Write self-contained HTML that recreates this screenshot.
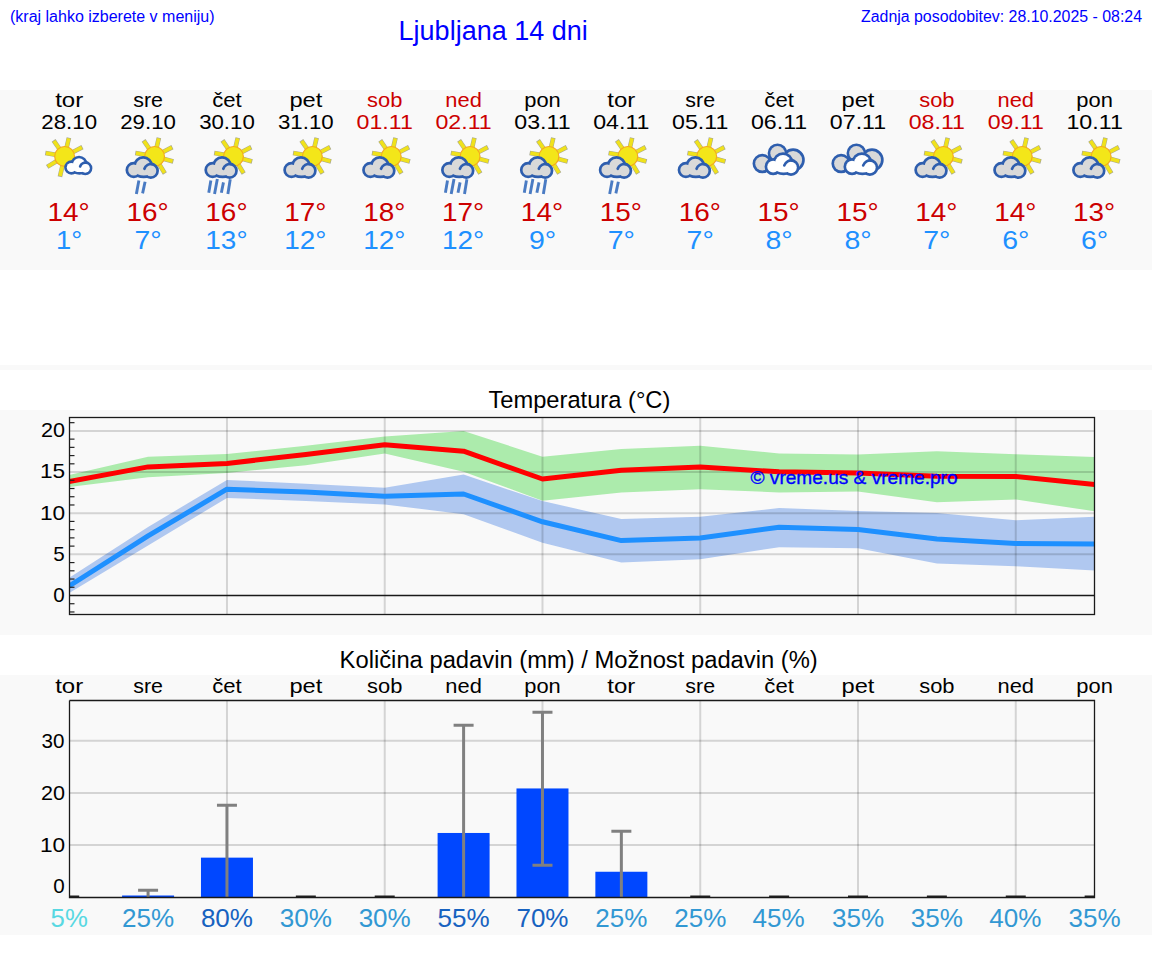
<!DOCTYPE html>
<html><head><meta charset="utf-8"><title>Ljubljana 14 dni</title>
<style>html,body{margin:0;padding:0;background:#fff;width:1152px;height:975px;overflow:hidden;font-family:"Liberation Sans", sans-serif}</style>
</head><body>
<svg width="1152" height="975" viewBox="0 0 1152 975" style="position:absolute;left:0;top:0" font-family="Liberation Sans, sans-serif"><rect x="0" y="90" width="1152" height="180" fill="#f9f9f9"/><rect x="0" y="365" width="1152" height="5" fill="#f9f9f9"/><rect x="0" y="410" width="1152" height="225" fill="#f9f9f9"/><rect x="0" y="675" width="1152" height="260" fill="#f9f9f9"/><text x="10.00" y="22.00" font-size="16.00" fill="#0000ff" text-anchor="start">(kraj lahko izberete v meniju)</text><text x="398.60" y="39.50" font-size="27.00" fill="#0000ff" text-anchor="start">Ljubljana 14 dni</text><text x="1142.00" y="22.00" font-size="16.00" fill="#0000ff" text-anchor="end" textLength="281.00" lengthAdjust="spacingAndGlyphs">Zadnja posodobitev: 28.10.2025 - 08:24</text><text x="69.20" y="107.00" font-size="20.60" fill="#000" text-anchor="middle" textLength="28.05" lengthAdjust="spacingAndGlyphs">tor</text><text x="69.20" y="129.00" font-size="20.60" fill="#000" text-anchor="middle" textLength="55.67" lengthAdjust="spacingAndGlyphs">28.10</text><text x="68.70" y="221.00" font-size="25.00" fill="#cc0000" text-anchor="middle" textLength="42.19" lengthAdjust="spacingAndGlyphs">14°</text><text x="69.20" y="249.00" font-size="25.00" fill="#1e90ff" text-anchor="middle" textLength="26.18" lengthAdjust="spacingAndGlyphs">1°</text><text x="148.08" y="107.00" font-size="20.60" fill="#000" text-anchor="middle" textLength="29.75" lengthAdjust="spacingAndGlyphs">sre</text><text x="148.08" y="129.00" font-size="20.60" fill="#000" text-anchor="middle" textLength="55.67" lengthAdjust="spacingAndGlyphs">29.10</text><text x="147.58" y="221.00" font-size="25.00" fill="#cc0000" text-anchor="middle" textLength="42.19" lengthAdjust="spacingAndGlyphs">16°</text><text x="148.08" y="249.00" font-size="25.00" fill="#1e90ff" text-anchor="middle" textLength="27.21" lengthAdjust="spacingAndGlyphs">7°</text><text x="226.96" y="107.00" font-size="20.60" fill="#000" text-anchor="middle" textLength="29.52" lengthAdjust="spacingAndGlyphs">čet</text><text x="226.96" y="129.00" font-size="20.60" fill="#000" text-anchor="middle" textLength="55.67" lengthAdjust="spacingAndGlyphs">30.10</text><text x="226.46" y="221.00" font-size="25.00" fill="#cc0000" text-anchor="middle" textLength="42.19" lengthAdjust="spacingAndGlyphs">16°</text><text x="226.46" y="249.00" font-size="25.00" fill="#1e90ff" text-anchor="middle" textLength="42.19" lengthAdjust="spacingAndGlyphs">13°</text><text x="305.84" y="107.00" font-size="20.60" fill="#000" text-anchor="middle" textLength="32.88" lengthAdjust="spacingAndGlyphs">pet</text><text x="305.84" y="129.00" font-size="20.60" fill="#000" text-anchor="middle" textLength="55.67" lengthAdjust="spacingAndGlyphs">31.10</text><text x="305.34" y="221.00" font-size="25.00" fill="#cc0000" text-anchor="middle" textLength="42.19" lengthAdjust="spacingAndGlyphs">17°</text><text x="305.34" y="249.00" font-size="25.00" fill="#1e90ff" text-anchor="middle" textLength="42.19" lengthAdjust="spacingAndGlyphs">12°</text><text x="384.72" y="107.00" font-size="20.60" fill="#cc0000" text-anchor="middle" textLength="35.29" lengthAdjust="spacingAndGlyphs">sob</text><text x="384.72" y="129.00" font-size="20.60" fill="#cc0000" text-anchor="middle" textLength="56.27" lengthAdjust="spacingAndGlyphs">01.11</text><text x="384.22" y="221.00" font-size="25.00" fill="#cc0000" text-anchor="middle" textLength="42.19" lengthAdjust="spacingAndGlyphs">18°</text><text x="384.22" y="249.00" font-size="25.00" fill="#1e90ff" text-anchor="middle" textLength="42.19" lengthAdjust="spacingAndGlyphs">12°</text><text x="463.60" y="107.00" font-size="20.60" fill="#cc0000" text-anchor="middle" textLength="36.52" lengthAdjust="spacingAndGlyphs">ned</text><text x="463.60" y="129.00" font-size="20.60" fill="#cc0000" text-anchor="middle" textLength="56.27" lengthAdjust="spacingAndGlyphs">02.11</text><text x="463.10" y="221.00" font-size="25.00" fill="#cc0000" text-anchor="middle" textLength="42.19" lengthAdjust="spacingAndGlyphs">17°</text><text x="463.10" y="249.00" font-size="25.00" fill="#1e90ff" text-anchor="middle" textLength="42.19" lengthAdjust="spacingAndGlyphs">12°</text><text x="542.48" y="107.00" font-size="20.60" fill="#000" text-anchor="middle" textLength="36.52" lengthAdjust="spacingAndGlyphs">pon</text><text x="542.48" y="129.00" font-size="20.60" fill="#000" text-anchor="middle" textLength="56.27" lengthAdjust="spacingAndGlyphs">03.11</text><text x="541.98" y="221.00" font-size="25.00" fill="#cc0000" text-anchor="middle" textLength="42.19" lengthAdjust="spacingAndGlyphs">14°</text><text x="542.48" y="249.00" font-size="25.00" fill="#1e90ff" text-anchor="middle" textLength="27.21" lengthAdjust="spacingAndGlyphs">9°</text><text x="621.36" y="107.00" font-size="20.60" fill="#000" text-anchor="middle" textLength="28.05" lengthAdjust="spacingAndGlyphs">tor</text><text x="621.36" y="129.00" font-size="20.60" fill="#000" text-anchor="middle" textLength="56.27" lengthAdjust="spacingAndGlyphs">04.11</text><text x="620.86" y="221.00" font-size="25.00" fill="#cc0000" text-anchor="middle" textLength="42.19" lengthAdjust="spacingAndGlyphs">15°</text><text x="621.36" y="249.00" font-size="25.00" fill="#1e90ff" text-anchor="middle" textLength="27.21" lengthAdjust="spacingAndGlyphs">7°</text><text x="700.24" y="107.00" font-size="20.60" fill="#000" text-anchor="middle" textLength="29.75" lengthAdjust="spacingAndGlyphs">sre</text><text x="700.24" y="129.00" font-size="20.60" fill="#000" text-anchor="middle" textLength="56.27" lengthAdjust="spacingAndGlyphs">05.11</text><text x="699.74" y="221.00" font-size="25.00" fill="#cc0000" text-anchor="middle" textLength="42.19" lengthAdjust="spacingAndGlyphs">16°</text><text x="700.24" y="249.00" font-size="25.00" fill="#1e90ff" text-anchor="middle" textLength="27.21" lengthAdjust="spacingAndGlyphs">7°</text><text x="779.12" y="107.00" font-size="20.60" fill="#000" text-anchor="middle" textLength="29.52" lengthAdjust="spacingAndGlyphs">čet</text><text x="779.12" y="129.00" font-size="20.60" fill="#000" text-anchor="middle" textLength="56.27" lengthAdjust="spacingAndGlyphs">06.11</text><text x="778.62" y="221.00" font-size="25.00" fill="#cc0000" text-anchor="middle" textLength="42.19" lengthAdjust="spacingAndGlyphs">15°</text><text x="779.12" y="249.00" font-size="25.00" fill="#1e90ff" text-anchor="middle" textLength="27.21" lengthAdjust="spacingAndGlyphs">8°</text><text x="858.00" y="107.00" font-size="20.60" fill="#000" text-anchor="middle" textLength="32.88" lengthAdjust="spacingAndGlyphs">pet</text><text x="858.00" y="129.00" font-size="20.60" fill="#000" text-anchor="middle" textLength="56.27" lengthAdjust="spacingAndGlyphs">07.11</text><text x="857.50" y="221.00" font-size="25.00" fill="#cc0000" text-anchor="middle" textLength="42.19" lengthAdjust="spacingAndGlyphs">15°</text><text x="858.00" y="249.00" font-size="25.00" fill="#1e90ff" text-anchor="middle" textLength="27.21" lengthAdjust="spacingAndGlyphs">8°</text><text x="936.88" y="107.00" font-size="20.60" fill="#cc0000" text-anchor="middle" textLength="35.29" lengthAdjust="spacingAndGlyphs">sob</text><text x="936.88" y="129.00" font-size="20.60" fill="#cc0000" text-anchor="middle" textLength="56.27" lengthAdjust="spacingAndGlyphs">08.11</text><text x="936.38" y="221.00" font-size="25.00" fill="#cc0000" text-anchor="middle" textLength="42.19" lengthAdjust="spacingAndGlyphs">14°</text><text x="936.88" y="249.00" font-size="25.00" fill="#1e90ff" text-anchor="middle" textLength="27.21" lengthAdjust="spacingAndGlyphs">7°</text><text x="1015.76" y="107.00" font-size="20.60" fill="#cc0000" text-anchor="middle" textLength="36.52" lengthAdjust="spacingAndGlyphs">ned</text><text x="1015.76" y="129.00" font-size="20.60" fill="#cc0000" text-anchor="middle" textLength="56.27" lengthAdjust="spacingAndGlyphs">09.11</text><text x="1015.26" y="221.00" font-size="25.00" fill="#cc0000" text-anchor="middle" textLength="42.19" lengthAdjust="spacingAndGlyphs">14°</text><text x="1015.76" y="249.00" font-size="25.00" fill="#1e90ff" text-anchor="middle" textLength="27.21" lengthAdjust="spacingAndGlyphs">6°</text><text x="1094.64" y="107.00" font-size="20.60" fill="#000" text-anchor="middle" textLength="36.52" lengthAdjust="spacingAndGlyphs">pon</text><text x="1094.64" y="129.00" font-size="20.60" fill="#000" text-anchor="middle" textLength="56.42" lengthAdjust="spacingAndGlyphs">10.11</text><text x="1094.14" y="221.00" font-size="25.00" fill="#cc0000" text-anchor="middle" textLength="42.19" lengthAdjust="spacingAndGlyphs">13°</text><text x="1094.64" y="249.00" font-size="25.00" fill="#1e90ff" text-anchor="middle" textLength="27.21" lengthAdjust="spacingAndGlyphs">6°</text><line x1="72.58" y1="152.24" x2="82.43" y2="147.12" stroke="#a8a890" stroke-width="4.6"/><line x1="66.62" y1="147.63" x2="68.92" y2="137.69" stroke="#a8a890" stroke-width="4.6"/><line x1="59.50" y1="148.98" x2="53.61" y2="140.41" stroke="#a8a890" stroke-width="4.6"/><line x1="55.74" y1="154.84" x2="45.30" y2="153.00" stroke="#a8a890" stroke-width="4.6"/><line x1="56.89" y1="161.04" x2="47.20" y2="166.86" stroke="#a8a890" stroke-width="4.6"/><line x1="62.58" y1="165.17" x2="59.92" y2="176.67" stroke="#a8a890" stroke-width="4.6"/><line x1="69.24" y1="164.11" x2="74.85" y2="173.46" stroke="#a8a890" stroke-width="4.6"/><line x1="73.29" y1="158.73" x2="83.34" y2="161.42" stroke="#a8a890" stroke-width="4.6"/><line x1="72.58" y1="152.24" x2="81.81" y2="147.44" stroke="#f0e21b" stroke-width="3.6"/><line x1="66.62" y1="147.63" x2="68.76" y2="138.37" stroke="#f0e21b" stroke-width="3.6"/><line x1="59.50" y1="148.98" x2="54.01" y2="140.99" stroke="#f0e21b" stroke-width="3.6"/><line x1="55.74" y1="154.84" x2="45.99" y2="153.12" stroke="#f0e21b" stroke-width="3.6"/><line x1="56.89" y1="161.04" x2="47.80" y2="166.49" stroke="#f0e21b" stroke-width="3.6"/><line x1="62.58" y1="165.17" x2="60.08" y2="175.98" stroke="#f0e21b" stroke-width="3.6"/><line x1="69.24" y1="164.11" x2="74.49" y2="172.86" stroke="#f0e21b" stroke-width="3.6"/><line x1="73.29" y1="158.73" x2="82.66" y2="161.24" stroke="#f0e21b" stroke-width="3.6"/><circle cx="64.60" cy="156.40" r="9.9" fill="#f3e619" stroke="#f4a91f" stroke-width="1.2"/><g transform="translate(64.30,156.20) scale(0.82)"><circle cx="8.60" cy="13.80" r="5.60" fill="#2e5eae" stroke="#2e5eae" stroke-width="6.34"/><circle cx="18.00" cy="10.00" r="7.40" fill="#2e5eae" stroke="#2e5eae" stroke-width="6.34"/><circle cx="25.60" cy="14.60" r="5.50" fill="#2e5eae" stroke="#2e5eae" stroke-width="6.34"/><ellipse cx="18.50" cy="15.80" rx="7.50" ry="3.50" fill="#2e5eae" stroke="#2e5eae" stroke-width="6.34"/><circle cx="8.60" cy="13.80" r="5.60" fill="#ffffff"/><circle cx="18.00" cy="10.00" r="7.40" fill="#ffffff"/><circle cx="25.60" cy="14.60" r="5.50" fill="#ffffff"/><ellipse cx="18.50" cy="15.80" rx="7.50" ry="3.50" fill="#ffffff"/><path d="M19.28,12.56 A6.8,6.8 0 0 1 27.37,8.07" fill="none" stroke="#2e5eae" stroke-width="3.17" stroke-linecap="round"/></g><line x1="162.56" y1="152.24" x2="172.41" y2="147.12" stroke="#a8a890" stroke-width="4.6"/><line x1="156.60" y1="147.63" x2="158.90" y2="137.69" stroke="#a8a890" stroke-width="4.6"/><line x1="149.48" y1="148.98" x2="143.59" y2="140.41" stroke="#a8a890" stroke-width="4.6"/><line x1="145.72" y1="154.84" x2="135.28" y2="153.00" stroke="#a8a890" stroke-width="4.6"/><line x1="146.87" y1="161.04" x2="137.18" y2="166.86" stroke="#a8a890" stroke-width="4.6"/><line x1="152.56" y1="165.17" x2="149.90" y2="176.67" stroke="#a8a890" stroke-width="4.6"/><line x1="159.22" y1="164.11" x2="164.83" y2="173.46" stroke="#a8a890" stroke-width="4.6"/><line x1="163.27" y1="158.73" x2="173.32" y2="161.42" stroke="#a8a890" stroke-width="4.6"/><line x1="162.56" y1="152.24" x2="171.79" y2="147.44" stroke="#f0e21b" stroke-width="3.6"/><line x1="156.60" y1="147.63" x2="158.74" y2="138.37" stroke="#f0e21b" stroke-width="3.6"/><line x1="149.48" y1="148.98" x2="143.99" y2="140.99" stroke="#f0e21b" stroke-width="3.6"/><line x1="145.72" y1="154.84" x2="135.97" y2="153.12" stroke="#f0e21b" stroke-width="3.6"/><line x1="146.87" y1="161.04" x2="137.78" y2="166.49" stroke="#f0e21b" stroke-width="3.6"/><line x1="152.56" y1="165.17" x2="150.06" y2="175.98" stroke="#f0e21b" stroke-width="3.6"/><line x1="159.22" y1="164.11" x2="164.47" y2="172.86" stroke="#f0e21b" stroke-width="3.6"/><line x1="163.27" y1="158.73" x2="172.64" y2="161.24" stroke="#f0e21b" stroke-width="3.6"/><circle cx="154.58" cy="156.40" r="9.9" fill="#f3e619" stroke="#f4a91f" stroke-width="1.2"/><line x1="138.88" y1="180.50" x2="136.38" y2="194.10" stroke="#4a7bc3" stroke-width="2.9"/><line x1="145.08" y1="181.80" x2="142.58" y2="193.40" stroke="#4a7bc3" stroke-width="2.9"/><g transform="translate(125.18,156.20) scale(1.0)"><circle cx="8.60" cy="13.80" r="5.60" fill="#2e5eae" stroke="#2e5eae" stroke-width="5.40"/><circle cx="18.00" cy="10.00" r="7.40" fill="#2e5eae" stroke="#2e5eae" stroke-width="5.40"/><circle cx="25.60" cy="14.60" r="5.50" fill="#2e5eae" stroke="#2e5eae" stroke-width="5.40"/><ellipse cx="18.50" cy="15.80" rx="7.50" ry="3.50" fill="#2e5eae" stroke="#2e5eae" stroke-width="5.40"/><circle cx="8.60" cy="13.80" r="5.60" fill="#d9d9d9"/><circle cx="18.00" cy="10.00" r="7.40" fill="#d9d9d9"/><circle cx="25.60" cy="14.60" r="5.50" fill="#d9d9d9"/><ellipse cx="18.50" cy="15.80" rx="7.50" ry="3.50" fill="#d9d9d9"/><path d="M19.23,12.54 A6.85,6.85 0 0 1 27.38,8.02" fill="none" stroke="#2e5eae" stroke-width="2.70" stroke-linecap="round"/></g><line x1="241.44" y1="152.24" x2="251.29" y2="147.12" stroke="#a8a890" stroke-width="4.6"/><line x1="235.48" y1="147.63" x2="237.78" y2="137.69" stroke="#a8a890" stroke-width="4.6"/><line x1="228.36" y1="148.98" x2="222.47" y2="140.41" stroke="#a8a890" stroke-width="4.6"/><line x1="224.60" y1="154.84" x2="214.16" y2="153.00" stroke="#a8a890" stroke-width="4.6"/><line x1="225.75" y1="161.04" x2="216.06" y2="166.86" stroke="#a8a890" stroke-width="4.6"/><line x1="231.44" y1="165.17" x2="228.78" y2="176.67" stroke="#a8a890" stroke-width="4.6"/><line x1="238.10" y1="164.11" x2="243.71" y2="173.46" stroke="#a8a890" stroke-width="4.6"/><line x1="242.15" y1="158.73" x2="252.20" y2="161.42" stroke="#a8a890" stroke-width="4.6"/><line x1="241.44" y1="152.24" x2="250.67" y2="147.44" stroke="#f0e21b" stroke-width="3.6"/><line x1="235.48" y1="147.63" x2="237.62" y2="138.37" stroke="#f0e21b" stroke-width="3.6"/><line x1="228.36" y1="148.98" x2="222.87" y2="140.99" stroke="#f0e21b" stroke-width="3.6"/><line x1="224.60" y1="154.84" x2="214.85" y2="153.12" stroke="#f0e21b" stroke-width="3.6"/><line x1="225.75" y1="161.04" x2="216.66" y2="166.49" stroke="#f0e21b" stroke-width="3.6"/><line x1="231.44" y1="165.17" x2="228.94" y2="175.98" stroke="#f0e21b" stroke-width="3.6"/><line x1="238.10" y1="164.11" x2="243.35" y2="172.86" stroke="#f0e21b" stroke-width="3.6"/><line x1="242.15" y1="158.73" x2="251.52" y2="161.24" stroke="#f0e21b" stroke-width="3.6"/><circle cx="233.46" cy="156.40" r="9.9" fill="#f3e619" stroke="#f4a91f" stroke-width="1.2"/><line x1="210.86" y1="180.50" x2="208.76" y2="192.80" stroke="#4a7bc3" stroke-width="2.9"/><line x1="217.36" y1="179.00" x2="214.56" y2="194.10" stroke="#4a7bc3" stroke-width="2.9"/><line x1="223.46" y1="182.40" x2="221.36" y2="192.80" stroke="#4a7bc3" stroke-width="2.9"/><line x1="230.26" y1="179.30" x2="227.86" y2="194.10" stroke="#4a7bc3" stroke-width="2.9"/><g transform="translate(204.06,156.20) scale(1.0)"><circle cx="8.60" cy="13.80" r="5.60" fill="#2e5eae" stroke="#2e5eae" stroke-width="5.40"/><circle cx="18.00" cy="10.00" r="7.40" fill="#2e5eae" stroke="#2e5eae" stroke-width="5.40"/><circle cx="25.60" cy="14.60" r="5.50" fill="#2e5eae" stroke="#2e5eae" stroke-width="5.40"/><ellipse cx="18.50" cy="15.80" rx="7.50" ry="3.50" fill="#2e5eae" stroke="#2e5eae" stroke-width="5.40"/><circle cx="8.60" cy="13.80" r="5.60" fill="#d9d9d9"/><circle cx="18.00" cy="10.00" r="7.40" fill="#d9d9d9"/><circle cx="25.60" cy="14.60" r="5.50" fill="#d9d9d9"/><ellipse cx="18.50" cy="15.80" rx="7.50" ry="3.50" fill="#d9d9d9"/><path d="M19.23,12.54 A6.85,6.85 0 0 1 27.38,8.02" fill="none" stroke="#2e5eae" stroke-width="2.70" stroke-linecap="round"/></g><line x1="320.32" y1="152.24" x2="330.17" y2="147.12" stroke="#a8a890" stroke-width="4.6"/><line x1="314.36" y1="147.63" x2="316.66" y2="137.69" stroke="#a8a890" stroke-width="4.6"/><line x1="307.24" y1="148.98" x2="301.35" y2="140.41" stroke="#a8a890" stroke-width="4.6"/><line x1="303.48" y1="154.84" x2="293.04" y2="153.00" stroke="#a8a890" stroke-width="4.6"/><line x1="304.63" y1="161.04" x2="294.94" y2="166.86" stroke="#a8a890" stroke-width="4.6"/><line x1="310.32" y1="165.17" x2="307.66" y2="176.67" stroke="#a8a890" stroke-width="4.6"/><line x1="316.98" y1="164.11" x2="322.59" y2="173.46" stroke="#a8a890" stroke-width="4.6"/><line x1="321.03" y1="158.73" x2="331.08" y2="161.42" stroke="#a8a890" stroke-width="4.6"/><line x1="320.32" y1="152.24" x2="329.55" y2="147.44" stroke="#f0e21b" stroke-width="3.6"/><line x1="314.36" y1="147.63" x2="316.50" y2="138.37" stroke="#f0e21b" stroke-width="3.6"/><line x1="307.24" y1="148.98" x2="301.75" y2="140.99" stroke="#f0e21b" stroke-width="3.6"/><line x1="303.48" y1="154.84" x2="293.73" y2="153.12" stroke="#f0e21b" stroke-width="3.6"/><line x1="304.63" y1="161.04" x2="295.54" y2="166.49" stroke="#f0e21b" stroke-width="3.6"/><line x1="310.32" y1="165.17" x2="307.82" y2="175.98" stroke="#f0e21b" stroke-width="3.6"/><line x1="316.98" y1="164.11" x2="322.23" y2="172.86" stroke="#f0e21b" stroke-width="3.6"/><line x1="321.03" y1="158.73" x2="330.40" y2="161.24" stroke="#f0e21b" stroke-width="3.6"/><circle cx="312.34" cy="156.40" r="9.9" fill="#f3e619" stroke="#f4a91f" stroke-width="1.2"/><g transform="translate(282.94,156.20) scale(1.0)"><circle cx="8.60" cy="13.80" r="5.60" fill="#2e5eae" stroke="#2e5eae" stroke-width="5.40"/><circle cx="18.00" cy="10.00" r="7.40" fill="#2e5eae" stroke="#2e5eae" stroke-width="5.40"/><circle cx="25.60" cy="14.60" r="5.50" fill="#2e5eae" stroke="#2e5eae" stroke-width="5.40"/><ellipse cx="18.50" cy="15.80" rx="7.50" ry="3.50" fill="#2e5eae" stroke="#2e5eae" stroke-width="5.40"/><circle cx="8.60" cy="13.80" r="5.60" fill="#d9d9d9"/><circle cx="18.00" cy="10.00" r="7.40" fill="#d9d9d9"/><circle cx="25.60" cy="14.60" r="5.50" fill="#d9d9d9"/><ellipse cx="18.50" cy="15.80" rx="7.50" ry="3.50" fill="#d9d9d9"/><path d="M19.23,12.54 A6.85,6.85 0 0 1 27.38,8.02" fill="none" stroke="#2e5eae" stroke-width="2.70" stroke-linecap="round"/></g><line x1="399.20" y1="152.24" x2="409.05" y2="147.12" stroke="#a8a890" stroke-width="4.6"/><line x1="393.24" y1="147.63" x2="395.54" y2="137.69" stroke="#a8a890" stroke-width="4.6"/><line x1="386.12" y1="148.98" x2="380.23" y2="140.41" stroke="#a8a890" stroke-width="4.6"/><line x1="382.36" y1="154.84" x2="371.92" y2="153.00" stroke="#a8a890" stroke-width="4.6"/><line x1="383.51" y1="161.04" x2="373.82" y2="166.86" stroke="#a8a890" stroke-width="4.6"/><line x1="389.20" y1="165.17" x2="386.54" y2="176.67" stroke="#a8a890" stroke-width="4.6"/><line x1="395.86" y1="164.11" x2="401.47" y2="173.46" stroke="#a8a890" stroke-width="4.6"/><line x1="399.91" y1="158.73" x2="409.96" y2="161.42" stroke="#a8a890" stroke-width="4.6"/><line x1="399.20" y1="152.24" x2="408.43" y2="147.44" stroke="#f0e21b" stroke-width="3.6"/><line x1="393.24" y1="147.63" x2="395.38" y2="138.37" stroke="#f0e21b" stroke-width="3.6"/><line x1="386.12" y1="148.98" x2="380.63" y2="140.99" stroke="#f0e21b" stroke-width="3.6"/><line x1="382.36" y1="154.84" x2="372.61" y2="153.12" stroke="#f0e21b" stroke-width="3.6"/><line x1="383.51" y1="161.04" x2="374.42" y2="166.49" stroke="#f0e21b" stroke-width="3.6"/><line x1="389.20" y1="165.17" x2="386.70" y2="175.98" stroke="#f0e21b" stroke-width="3.6"/><line x1="395.86" y1="164.11" x2="401.11" y2="172.86" stroke="#f0e21b" stroke-width="3.6"/><line x1="399.91" y1="158.73" x2="409.28" y2="161.24" stroke="#f0e21b" stroke-width="3.6"/><circle cx="391.22" cy="156.40" r="9.9" fill="#f3e619" stroke="#f4a91f" stroke-width="1.2"/><g transform="translate(361.82,156.20) scale(1.0)"><circle cx="8.60" cy="13.80" r="5.60" fill="#2e5eae" stroke="#2e5eae" stroke-width="5.40"/><circle cx="18.00" cy="10.00" r="7.40" fill="#2e5eae" stroke="#2e5eae" stroke-width="5.40"/><circle cx="25.60" cy="14.60" r="5.50" fill="#2e5eae" stroke="#2e5eae" stroke-width="5.40"/><ellipse cx="18.50" cy="15.80" rx="7.50" ry="3.50" fill="#2e5eae" stroke="#2e5eae" stroke-width="5.40"/><circle cx="8.60" cy="13.80" r="5.60" fill="#d9d9d9"/><circle cx="18.00" cy="10.00" r="7.40" fill="#d9d9d9"/><circle cx="25.60" cy="14.60" r="5.50" fill="#d9d9d9"/><ellipse cx="18.50" cy="15.80" rx="7.50" ry="3.50" fill="#d9d9d9"/><path d="M19.23,12.54 A6.85,6.85 0 0 1 27.38,8.02" fill="none" stroke="#2e5eae" stroke-width="2.70" stroke-linecap="round"/></g><line x1="478.08" y1="152.24" x2="487.93" y2="147.12" stroke="#a8a890" stroke-width="4.6"/><line x1="472.12" y1="147.63" x2="474.42" y2="137.69" stroke="#a8a890" stroke-width="4.6"/><line x1="465.00" y1="148.98" x2="459.11" y2="140.41" stroke="#a8a890" stroke-width="4.6"/><line x1="461.24" y1="154.84" x2="450.80" y2="153.00" stroke="#a8a890" stroke-width="4.6"/><line x1="462.39" y1="161.04" x2="452.70" y2="166.86" stroke="#a8a890" stroke-width="4.6"/><line x1="468.08" y1="165.17" x2="465.42" y2="176.67" stroke="#a8a890" stroke-width="4.6"/><line x1="474.74" y1="164.11" x2="480.35" y2="173.46" stroke="#a8a890" stroke-width="4.6"/><line x1="478.79" y1="158.73" x2="488.84" y2="161.42" stroke="#a8a890" stroke-width="4.6"/><line x1="478.08" y1="152.24" x2="487.31" y2="147.44" stroke="#f0e21b" stroke-width="3.6"/><line x1="472.12" y1="147.63" x2="474.26" y2="138.37" stroke="#f0e21b" stroke-width="3.6"/><line x1="465.00" y1="148.98" x2="459.51" y2="140.99" stroke="#f0e21b" stroke-width="3.6"/><line x1="461.24" y1="154.84" x2="451.49" y2="153.12" stroke="#f0e21b" stroke-width="3.6"/><line x1="462.39" y1="161.04" x2="453.30" y2="166.49" stroke="#f0e21b" stroke-width="3.6"/><line x1="468.08" y1="165.17" x2="465.58" y2="175.98" stroke="#f0e21b" stroke-width="3.6"/><line x1="474.74" y1="164.11" x2="479.99" y2="172.86" stroke="#f0e21b" stroke-width="3.6"/><line x1="478.79" y1="158.73" x2="488.16" y2="161.24" stroke="#f0e21b" stroke-width="3.6"/><circle cx="470.10" cy="156.40" r="9.9" fill="#f3e619" stroke="#f4a91f" stroke-width="1.2"/><line x1="447.50" y1="180.50" x2="445.40" y2="192.80" stroke="#4a7bc3" stroke-width="2.9"/><line x1="454.00" y1="179.00" x2="451.20" y2="194.10" stroke="#4a7bc3" stroke-width="2.9"/><line x1="460.10" y1="182.40" x2="458.00" y2="192.80" stroke="#4a7bc3" stroke-width="2.9"/><line x1="466.90" y1="179.30" x2="464.50" y2="194.10" stroke="#4a7bc3" stroke-width="2.9"/><g transform="translate(440.70,156.20) scale(1.0)"><circle cx="8.60" cy="13.80" r="5.60" fill="#2e5eae" stroke="#2e5eae" stroke-width="5.40"/><circle cx="18.00" cy="10.00" r="7.40" fill="#2e5eae" stroke="#2e5eae" stroke-width="5.40"/><circle cx="25.60" cy="14.60" r="5.50" fill="#2e5eae" stroke="#2e5eae" stroke-width="5.40"/><ellipse cx="18.50" cy="15.80" rx="7.50" ry="3.50" fill="#2e5eae" stroke="#2e5eae" stroke-width="5.40"/><circle cx="8.60" cy="13.80" r="5.60" fill="#d9d9d9"/><circle cx="18.00" cy="10.00" r="7.40" fill="#d9d9d9"/><circle cx="25.60" cy="14.60" r="5.50" fill="#d9d9d9"/><ellipse cx="18.50" cy="15.80" rx="7.50" ry="3.50" fill="#d9d9d9"/><path d="M19.23,12.54 A6.85,6.85 0 0 1 27.38,8.02" fill="none" stroke="#2e5eae" stroke-width="2.70" stroke-linecap="round"/></g><line x1="556.96" y1="152.24" x2="566.81" y2="147.12" stroke="#a8a890" stroke-width="4.6"/><line x1="551.00" y1="147.63" x2="553.30" y2="137.69" stroke="#a8a890" stroke-width="4.6"/><line x1="543.88" y1="148.98" x2="537.99" y2="140.41" stroke="#a8a890" stroke-width="4.6"/><line x1="540.12" y1="154.84" x2="529.68" y2="153.00" stroke="#a8a890" stroke-width="4.6"/><line x1="541.27" y1="161.04" x2="531.58" y2="166.86" stroke="#a8a890" stroke-width="4.6"/><line x1="546.96" y1="165.17" x2="544.30" y2="176.67" stroke="#a8a890" stroke-width="4.6"/><line x1="553.62" y1="164.11" x2="559.23" y2="173.46" stroke="#a8a890" stroke-width="4.6"/><line x1="557.67" y1="158.73" x2="567.72" y2="161.42" stroke="#a8a890" stroke-width="4.6"/><line x1="556.96" y1="152.24" x2="566.19" y2="147.44" stroke="#f0e21b" stroke-width="3.6"/><line x1="551.00" y1="147.63" x2="553.14" y2="138.37" stroke="#f0e21b" stroke-width="3.6"/><line x1="543.88" y1="148.98" x2="538.39" y2="140.99" stroke="#f0e21b" stroke-width="3.6"/><line x1="540.12" y1="154.84" x2="530.37" y2="153.12" stroke="#f0e21b" stroke-width="3.6"/><line x1="541.27" y1="161.04" x2="532.18" y2="166.49" stroke="#f0e21b" stroke-width="3.6"/><line x1="546.96" y1="165.17" x2="544.46" y2="175.98" stroke="#f0e21b" stroke-width="3.6"/><line x1="553.62" y1="164.11" x2="558.87" y2="172.86" stroke="#f0e21b" stroke-width="3.6"/><line x1="557.67" y1="158.73" x2="567.04" y2="161.24" stroke="#f0e21b" stroke-width="3.6"/><circle cx="548.98" cy="156.40" r="9.9" fill="#f3e619" stroke="#f4a91f" stroke-width="1.2"/><line x1="526.38" y1="180.50" x2="524.28" y2="192.80" stroke="#4a7bc3" stroke-width="2.9"/><line x1="532.88" y1="179.00" x2="530.08" y2="194.10" stroke="#4a7bc3" stroke-width="2.9"/><line x1="538.98" y1="182.40" x2="536.88" y2="192.80" stroke="#4a7bc3" stroke-width="2.9"/><line x1="545.78" y1="179.30" x2="543.38" y2="194.10" stroke="#4a7bc3" stroke-width="2.9"/><g transform="translate(519.58,156.20) scale(1.0)"><circle cx="8.60" cy="13.80" r="5.60" fill="#2e5eae" stroke="#2e5eae" stroke-width="5.40"/><circle cx="18.00" cy="10.00" r="7.40" fill="#2e5eae" stroke="#2e5eae" stroke-width="5.40"/><circle cx="25.60" cy="14.60" r="5.50" fill="#2e5eae" stroke="#2e5eae" stroke-width="5.40"/><ellipse cx="18.50" cy="15.80" rx="7.50" ry="3.50" fill="#2e5eae" stroke="#2e5eae" stroke-width="5.40"/><circle cx="8.60" cy="13.80" r="5.60" fill="#d9d9d9"/><circle cx="18.00" cy="10.00" r="7.40" fill="#d9d9d9"/><circle cx="25.60" cy="14.60" r="5.50" fill="#d9d9d9"/><ellipse cx="18.50" cy="15.80" rx="7.50" ry="3.50" fill="#d9d9d9"/><path d="M19.23,12.54 A6.85,6.85 0 0 1 27.38,8.02" fill="none" stroke="#2e5eae" stroke-width="2.70" stroke-linecap="round"/></g><line x1="635.84" y1="152.24" x2="645.69" y2="147.12" stroke="#a8a890" stroke-width="4.6"/><line x1="629.88" y1="147.63" x2="632.18" y2="137.69" stroke="#a8a890" stroke-width="4.6"/><line x1="622.76" y1="148.98" x2="616.87" y2="140.41" stroke="#a8a890" stroke-width="4.6"/><line x1="619.00" y1="154.84" x2="608.56" y2="153.00" stroke="#a8a890" stroke-width="4.6"/><line x1="620.15" y1="161.04" x2="610.46" y2="166.86" stroke="#a8a890" stroke-width="4.6"/><line x1="625.84" y1="165.17" x2="623.18" y2="176.67" stroke="#a8a890" stroke-width="4.6"/><line x1="632.50" y1="164.11" x2="638.11" y2="173.46" stroke="#a8a890" stroke-width="4.6"/><line x1="636.55" y1="158.73" x2="646.60" y2="161.42" stroke="#a8a890" stroke-width="4.6"/><line x1="635.84" y1="152.24" x2="645.07" y2="147.44" stroke="#f0e21b" stroke-width="3.6"/><line x1="629.88" y1="147.63" x2="632.02" y2="138.37" stroke="#f0e21b" stroke-width="3.6"/><line x1="622.76" y1="148.98" x2="617.27" y2="140.99" stroke="#f0e21b" stroke-width="3.6"/><line x1="619.00" y1="154.84" x2="609.25" y2="153.12" stroke="#f0e21b" stroke-width="3.6"/><line x1="620.15" y1="161.04" x2="611.06" y2="166.49" stroke="#f0e21b" stroke-width="3.6"/><line x1="625.84" y1="165.17" x2="623.34" y2="175.98" stroke="#f0e21b" stroke-width="3.6"/><line x1="632.50" y1="164.11" x2="637.75" y2="172.86" stroke="#f0e21b" stroke-width="3.6"/><line x1="636.55" y1="158.73" x2="645.92" y2="161.24" stroke="#f0e21b" stroke-width="3.6"/><circle cx="627.86" cy="156.40" r="9.9" fill="#f3e619" stroke="#f4a91f" stroke-width="1.2"/><line x1="612.16" y1="180.50" x2="609.66" y2="194.10" stroke="#4a7bc3" stroke-width="2.9"/><line x1="618.36" y1="181.80" x2="615.86" y2="193.40" stroke="#4a7bc3" stroke-width="2.9"/><g transform="translate(598.46,156.20) scale(1.0)"><circle cx="8.60" cy="13.80" r="5.60" fill="#2e5eae" stroke="#2e5eae" stroke-width="5.40"/><circle cx="18.00" cy="10.00" r="7.40" fill="#2e5eae" stroke="#2e5eae" stroke-width="5.40"/><circle cx="25.60" cy="14.60" r="5.50" fill="#2e5eae" stroke="#2e5eae" stroke-width="5.40"/><ellipse cx="18.50" cy="15.80" rx="7.50" ry="3.50" fill="#2e5eae" stroke="#2e5eae" stroke-width="5.40"/><circle cx="8.60" cy="13.80" r="5.60" fill="#d9d9d9"/><circle cx="18.00" cy="10.00" r="7.40" fill="#d9d9d9"/><circle cx="25.60" cy="14.60" r="5.50" fill="#d9d9d9"/><ellipse cx="18.50" cy="15.80" rx="7.50" ry="3.50" fill="#d9d9d9"/><path d="M19.23,12.54 A6.85,6.85 0 0 1 27.38,8.02" fill="none" stroke="#2e5eae" stroke-width="2.70" stroke-linecap="round"/></g><line x1="714.72" y1="152.24" x2="724.57" y2="147.12" stroke="#a8a890" stroke-width="4.6"/><line x1="708.76" y1="147.63" x2="711.06" y2="137.69" stroke="#a8a890" stroke-width="4.6"/><line x1="701.64" y1="148.98" x2="695.75" y2="140.41" stroke="#a8a890" stroke-width="4.6"/><line x1="697.88" y1="154.84" x2="687.44" y2="153.00" stroke="#a8a890" stroke-width="4.6"/><line x1="699.03" y1="161.04" x2="689.34" y2="166.86" stroke="#a8a890" stroke-width="4.6"/><line x1="704.72" y1="165.17" x2="702.06" y2="176.67" stroke="#a8a890" stroke-width="4.6"/><line x1="711.38" y1="164.11" x2="716.99" y2="173.46" stroke="#a8a890" stroke-width="4.6"/><line x1="715.43" y1="158.73" x2="725.48" y2="161.42" stroke="#a8a890" stroke-width="4.6"/><line x1="714.72" y1="152.24" x2="723.95" y2="147.44" stroke="#f0e21b" stroke-width="3.6"/><line x1="708.76" y1="147.63" x2="710.90" y2="138.37" stroke="#f0e21b" stroke-width="3.6"/><line x1="701.64" y1="148.98" x2="696.15" y2="140.99" stroke="#f0e21b" stroke-width="3.6"/><line x1="697.88" y1="154.84" x2="688.13" y2="153.12" stroke="#f0e21b" stroke-width="3.6"/><line x1="699.03" y1="161.04" x2="689.94" y2="166.49" stroke="#f0e21b" stroke-width="3.6"/><line x1="704.72" y1="165.17" x2="702.22" y2="175.98" stroke="#f0e21b" stroke-width="3.6"/><line x1="711.38" y1="164.11" x2="716.63" y2="172.86" stroke="#f0e21b" stroke-width="3.6"/><line x1="715.43" y1="158.73" x2="724.80" y2="161.24" stroke="#f0e21b" stroke-width="3.6"/><circle cx="706.74" cy="156.40" r="9.9" fill="#f3e619" stroke="#f4a91f" stroke-width="1.2"/><g transform="translate(677.34,156.20) scale(1.0)"><circle cx="8.60" cy="13.80" r="5.60" fill="#2e5eae" stroke="#2e5eae" stroke-width="5.40"/><circle cx="18.00" cy="10.00" r="7.40" fill="#2e5eae" stroke="#2e5eae" stroke-width="5.40"/><circle cx="25.60" cy="14.60" r="5.50" fill="#2e5eae" stroke="#2e5eae" stroke-width="5.40"/><ellipse cx="18.50" cy="15.80" rx="7.50" ry="3.50" fill="#2e5eae" stroke="#2e5eae" stroke-width="5.40"/><circle cx="8.60" cy="13.80" r="5.60" fill="#d9d9d9"/><circle cx="18.00" cy="10.00" r="7.40" fill="#d9d9d9"/><circle cx="25.60" cy="14.60" r="5.50" fill="#d9d9d9"/><ellipse cx="18.50" cy="15.80" rx="7.50" ry="3.50" fill="#d9d9d9"/><path d="M19.23,12.54 A6.85,6.85 0 0 1 27.38,8.02" fill="none" stroke="#2e5eae" stroke-width="2.70" stroke-linecap="round"/></g><circle cx="762.27" cy="163.55" r="7.05" fill="#2e5eae" stroke="#2e5eae" stroke-width="5.4"/><circle cx="777.52" cy="153.30" r="7.20" fill="#2e5eae" stroke="#2e5eae" stroke-width="5.4"/><circle cx="793.12" cy="160.00" r="9.00" fill="#2e5eae" stroke="#2e5eae" stroke-width="5.4"/><circle cx="762.27" cy="163.55" r="7.05" fill="#d9d9d9"/><circle cx="777.52" cy="153.30" r="7.20" fill="#d9d9d9"/><circle cx="793.12" cy="160.00" r="9.00" fill="#d9d9d9"/><g transform="translate(764.12,152.20) scale(1.05)"><circle cx="8.60" cy="13.80" r="5.60" fill="#2e5eae" stroke="#2e5eae" stroke-width="5.14"/><circle cx="18.00" cy="10.00" r="7.40" fill="#2e5eae" stroke="#2e5eae" stroke-width="5.14"/><circle cx="25.60" cy="14.60" r="5.50" fill="#2e5eae" stroke="#2e5eae" stroke-width="5.14"/><ellipse cx="18.50" cy="15.80" rx="7.50" ry="3.50" fill="#2e5eae" stroke="#2e5eae" stroke-width="5.14"/><circle cx="8.60" cy="13.80" r="5.60" fill="#ffffff"/><circle cx="18.00" cy="10.00" r="7.40" fill="#ffffff"/><circle cx="25.60" cy="14.60" r="5.50" fill="#ffffff"/><ellipse cx="18.50" cy="15.80" rx="7.50" ry="3.50" fill="#ffffff"/><path d="M19.23,12.54 A6.85,6.85 0 0 1 27.38,8.02" fill="none" stroke="#2e5eae" stroke-width="2.57" stroke-linecap="round"/></g><circle cx="841.15" cy="163.55" r="7.05" fill="#2e5eae" stroke="#2e5eae" stroke-width="5.4"/><circle cx="856.40" cy="153.30" r="7.20" fill="#2e5eae" stroke="#2e5eae" stroke-width="5.4"/><circle cx="872.00" cy="160.00" r="9.00" fill="#2e5eae" stroke="#2e5eae" stroke-width="5.4"/><circle cx="841.15" cy="163.55" r="7.05" fill="#d9d9d9"/><circle cx="856.40" cy="153.30" r="7.20" fill="#d9d9d9"/><circle cx="872.00" cy="160.00" r="9.00" fill="#d9d9d9"/><g transform="translate(843.00,152.20) scale(1.05)"><circle cx="8.60" cy="13.80" r="5.60" fill="#2e5eae" stroke="#2e5eae" stroke-width="5.14"/><circle cx="18.00" cy="10.00" r="7.40" fill="#2e5eae" stroke="#2e5eae" stroke-width="5.14"/><circle cx="25.60" cy="14.60" r="5.50" fill="#2e5eae" stroke="#2e5eae" stroke-width="5.14"/><ellipse cx="18.50" cy="15.80" rx="7.50" ry="3.50" fill="#2e5eae" stroke="#2e5eae" stroke-width="5.14"/><circle cx="8.60" cy="13.80" r="5.60" fill="#ffffff"/><circle cx="18.00" cy="10.00" r="7.40" fill="#ffffff"/><circle cx="25.60" cy="14.60" r="5.50" fill="#ffffff"/><ellipse cx="18.50" cy="15.80" rx="7.50" ry="3.50" fill="#ffffff"/><path d="M19.23,12.54 A6.85,6.85 0 0 1 27.38,8.02" fill="none" stroke="#2e5eae" stroke-width="2.57" stroke-linecap="round"/></g><line x1="951.36" y1="152.24" x2="961.21" y2="147.12" stroke="#a8a890" stroke-width="4.6"/><line x1="945.40" y1="147.63" x2="947.70" y2="137.69" stroke="#a8a890" stroke-width="4.6"/><line x1="938.28" y1="148.98" x2="932.39" y2="140.41" stroke="#a8a890" stroke-width="4.6"/><line x1="934.52" y1="154.84" x2="924.08" y2="153.00" stroke="#a8a890" stroke-width="4.6"/><line x1="935.67" y1="161.04" x2="925.98" y2="166.86" stroke="#a8a890" stroke-width="4.6"/><line x1="941.36" y1="165.17" x2="938.70" y2="176.67" stroke="#a8a890" stroke-width="4.6"/><line x1="948.02" y1="164.11" x2="953.63" y2="173.46" stroke="#a8a890" stroke-width="4.6"/><line x1="952.07" y1="158.73" x2="962.12" y2="161.42" stroke="#a8a890" stroke-width="4.6"/><line x1="951.36" y1="152.24" x2="960.59" y2="147.44" stroke="#f0e21b" stroke-width="3.6"/><line x1="945.40" y1="147.63" x2="947.54" y2="138.37" stroke="#f0e21b" stroke-width="3.6"/><line x1="938.28" y1="148.98" x2="932.79" y2="140.99" stroke="#f0e21b" stroke-width="3.6"/><line x1="934.52" y1="154.84" x2="924.77" y2="153.12" stroke="#f0e21b" stroke-width="3.6"/><line x1="935.67" y1="161.04" x2="926.58" y2="166.49" stroke="#f0e21b" stroke-width="3.6"/><line x1="941.36" y1="165.17" x2="938.86" y2="175.98" stroke="#f0e21b" stroke-width="3.6"/><line x1="948.02" y1="164.11" x2="953.27" y2="172.86" stroke="#f0e21b" stroke-width="3.6"/><line x1="952.07" y1="158.73" x2="961.44" y2="161.24" stroke="#f0e21b" stroke-width="3.6"/><circle cx="943.38" cy="156.40" r="9.9" fill="#f3e619" stroke="#f4a91f" stroke-width="1.2"/><g transform="translate(913.98,156.20) scale(1.0)"><circle cx="8.60" cy="13.80" r="5.60" fill="#2e5eae" stroke="#2e5eae" stroke-width="5.40"/><circle cx="18.00" cy="10.00" r="7.40" fill="#2e5eae" stroke="#2e5eae" stroke-width="5.40"/><circle cx="25.60" cy="14.60" r="5.50" fill="#2e5eae" stroke="#2e5eae" stroke-width="5.40"/><ellipse cx="18.50" cy="15.80" rx="7.50" ry="3.50" fill="#2e5eae" stroke="#2e5eae" stroke-width="5.40"/><circle cx="8.60" cy="13.80" r="5.60" fill="#d9d9d9"/><circle cx="18.00" cy="10.00" r="7.40" fill="#d9d9d9"/><circle cx="25.60" cy="14.60" r="5.50" fill="#d9d9d9"/><ellipse cx="18.50" cy="15.80" rx="7.50" ry="3.50" fill="#d9d9d9"/><path d="M19.23,12.54 A6.85,6.85 0 0 1 27.38,8.02" fill="none" stroke="#2e5eae" stroke-width="2.70" stroke-linecap="round"/></g><line x1="1030.24" y1="152.24" x2="1040.09" y2="147.12" stroke="#a8a890" stroke-width="4.6"/><line x1="1024.28" y1="147.63" x2="1026.58" y2="137.69" stroke="#a8a890" stroke-width="4.6"/><line x1="1017.16" y1="148.98" x2="1011.27" y2="140.41" stroke="#a8a890" stroke-width="4.6"/><line x1="1013.40" y1="154.84" x2="1002.96" y2="153.00" stroke="#a8a890" stroke-width="4.6"/><line x1="1014.55" y1="161.04" x2="1004.86" y2="166.86" stroke="#a8a890" stroke-width="4.6"/><line x1="1020.24" y1="165.17" x2="1017.58" y2="176.67" stroke="#a8a890" stroke-width="4.6"/><line x1="1026.90" y1="164.11" x2="1032.51" y2="173.46" stroke="#a8a890" stroke-width="4.6"/><line x1="1030.95" y1="158.73" x2="1041.00" y2="161.42" stroke="#a8a890" stroke-width="4.6"/><line x1="1030.24" y1="152.24" x2="1039.47" y2="147.44" stroke="#f0e21b" stroke-width="3.6"/><line x1="1024.28" y1="147.63" x2="1026.42" y2="138.37" stroke="#f0e21b" stroke-width="3.6"/><line x1="1017.16" y1="148.98" x2="1011.67" y2="140.99" stroke="#f0e21b" stroke-width="3.6"/><line x1="1013.40" y1="154.84" x2="1003.65" y2="153.12" stroke="#f0e21b" stroke-width="3.6"/><line x1="1014.55" y1="161.04" x2="1005.46" y2="166.49" stroke="#f0e21b" stroke-width="3.6"/><line x1="1020.24" y1="165.17" x2="1017.74" y2="175.98" stroke="#f0e21b" stroke-width="3.6"/><line x1="1026.90" y1="164.11" x2="1032.15" y2="172.86" stroke="#f0e21b" stroke-width="3.6"/><line x1="1030.95" y1="158.73" x2="1040.32" y2="161.24" stroke="#f0e21b" stroke-width="3.6"/><circle cx="1022.26" cy="156.40" r="9.9" fill="#f3e619" stroke="#f4a91f" stroke-width="1.2"/><g transform="translate(992.86,156.20) scale(1.0)"><circle cx="8.60" cy="13.80" r="5.60" fill="#2e5eae" stroke="#2e5eae" stroke-width="5.40"/><circle cx="18.00" cy="10.00" r="7.40" fill="#2e5eae" stroke="#2e5eae" stroke-width="5.40"/><circle cx="25.60" cy="14.60" r="5.50" fill="#2e5eae" stroke="#2e5eae" stroke-width="5.40"/><ellipse cx="18.50" cy="15.80" rx="7.50" ry="3.50" fill="#2e5eae" stroke="#2e5eae" stroke-width="5.40"/><circle cx="8.60" cy="13.80" r="5.60" fill="#d9d9d9"/><circle cx="18.00" cy="10.00" r="7.40" fill="#d9d9d9"/><circle cx="25.60" cy="14.60" r="5.50" fill="#d9d9d9"/><ellipse cx="18.50" cy="15.80" rx="7.50" ry="3.50" fill="#d9d9d9"/><path d="M19.23,12.54 A6.85,6.85 0 0 1 27.38,8.02" fill="none" stroke="#2e5eae" stroke-width="2.70" stroke-linecap="round"/></g><line x1="1109.12" y1="152.24" x2="1118.97" y2="147.12" stroke="#a8a890" stroke-width="4.6"/><line x1="1103.16" y1="147.63" x2="1105.46" y2="137.69" stroke="#a8a890" stroke-width="4.6"/><line x1="1096.04" y1="148.98" x2="1090.15" y2="140.41" stroke="#a8a890" stroke-width="4.6"/><line x1="1092.28" y1="154.84" x2="1081.84" y2="153.00" stroke="#a8a890" stroke-width="4.6"/><line x1="1093.43" y1="161.04" x2="1083.74" y2="166.86" stroke="#a8a890" stroke-width="4.6"/><line x1="1099.12" y1="165.17" x2="1096.46" y2="176.67" stroke="#a8a890" stroke-width="4.6"/><line x1="1105.78" y1="164.11" x2="1111.39" y2="173.46" stroke="#a8a890" stroke-width="4.6"/><line x1="1109.83" y1="158.73" x2="1119.88" y2="161.42" stroke="#a8a890" stroke-width="4.6"/><line x1="1109.12" y1="152.24" x2="1118.35" y2="147.44" stroke="#f0e21b" stroke-width="3.6"/><line x1="1103.16" y1="147.63" x2="1105.30" y2="138.37" stroke="#f0e21b" stroke-width="3.6"/><line x1="1096.04" y1="148.98" x2="1090.55" y2="140.99" stroke="#f0e21b" stroke-width="3.6"/><line x1="1092.28" y1="154.84" x2="1082.53" y2="153.12" stroke="#f0e21b" stroke-width="3.6"/><line x1="1093.43" y1="161.04" x2="1084.34" y2="166.49" stroke="#f0e21b" stroke-width="3.6"/><line x1="1099.12" y1="165.17" x2="1096.62" y2="175.98" stroke="#f0e21b" stroke-width="3.6"/><line x1="1105.78" y1="164.11" x2="1111.03" y2="172.86" stroke="#f0e21b" stroke-width="3.6"/><line x1="1109.83" y1="158.73" x2="1119.20" y2="161.24" stroke="#f0e21b" stroke-width="3.6"/><circle cx="1101.14" cy="156.40" r="9.9" fill="#f3e619" stroke="#f4a91f" stroke-width="1.2"/><g transform="translate(1071.74,156.20) scale(1.0)"><circle cx="8.60" cy="13.80" r="5.60" fill="#2e5eae" stroke="#2e5eae" stroke-width="5.40"/><circle cx="18.00" cy="10.00" r="7.40" fill="#2e5eae" stroke="#2e5eae" stroke-width="5.40"/><circle cx="25.60" cy="14.60" r="5.50" fill="#2e5eae" stroke="#2e5eae" stroke-width="5.40"/><ellipse cx="18.50" cy="15.80" rx="7.50" ry="3.50" fill="#2e5eae" stroke="#2e5eae" stroke-width="5.40"/><circle cx="8.60" cy="13.80" r="5.60" fill="#d9d9d9"/><circle cx="18.00" cy="10.00" r="7.40" fill="#d9d9d9"/><circle cx="25.60" cy="14.60" r="5.50" fill="#d9d9d9"/><ellipse cx="18.50" cy="15.80" rx="7.50" ry="3.50" fill="#d9d9d9"/><path d="M19.23,12.54 A6.85,6.85 0 0 1 27.38,8.02" fill="none" stroke="#2e5eae" stroke-width="2.70" stroke-linecap="round"/></g><text x="579.40" y="407.60" font-size="23.70" fill="#000" text-anchor="middle">Temperatura (°C)</text><rect x="69.5" y="417.5" width="1025.0" height="197.0" fill="#f9f9f9"/><clipPath id="tc"><rect x="69.5" y="417.5" width="1025.0" height="197.0"/></clipPath><g clip-path="url(#tc)"><polygon points="69.20,475.10 148.08,456.70 226.96,454.00 305.84,445.80 384.72,436.50 463.60,431.00 542.48,456.70 621.36,449.00 700.24,445.80 779.12,453.40 858.00,454.50 936.88,451.20 1015.76,454.20 1094.64,457.00 1094.64,511.30 1015.76,499.40 936.88,502.20 858.00,491.40 779.12,492.50 700.24,489.20 621.36,492.50 542.48,500.70 463.60,471.80 384.72,453.40 305.84,465.30 226.96,472.90 148.08,477.30 69.20,487.00" fill="#acebac"/><polygon points="69.20,577.80 148.08,527.00 226.96,479.90 305.84,483.80 384.72,487.70 463.60,474.50 542.48,501.10 621.36,518.90 700.24,516.80 779.12,508.10 858.00,510.90 936.88,513.10 1015.76,520.30 1094.64,516.70 1094.64,570.60 1015.76,566.30 936.88,563.60 858.00,548.20 779.12,547.20 700.24,559.30 621.36,562.60 542.48,542.80 463.60,514.20 384.72,504.40 305.84,501.10 226.96,497.90 148.08,545.60 69.20,593.00" fill="#b0c8f0"/><line x1="69.5" y1="554.35" x2="1094.5" y2="554.35" stroke="#000" stroke-opacity="0.15" stroke-width="2"/><line x1="69.5" y1="513.20" x2="1094.5" y2="513.20" stroke="#000" stroke-opacity="0.15" stroke-width="2"/><line x1="69.5" y1="472.05" x2="1094.5" y2="472.05" stroke="#000" stroke-opacity="0.15" stroke-width="2"/><line x1="69.5" y1="430.90" x2="1094.5" y2="430.90" stroke="#000" stroke-opacity="0.15" stroke-width="2"/><line x1="226.96" y1="417.5" x2="226.96" y2="614.5" stroke="#000" stroke-opacity="0.15" stroke-width="2"/><line x1="384.72" y1="417.5" x2="384.72" y2="614.5" stroke="#000" stroke-opacity="0.15" stroke-width="2"/><line x1="542.48" y1="417.5" x2="542.48" y2="614.5" stroke="#000" stroke-opacity="0.15" stroke-width="2"/><line x1="700.24" y1="417.5" x2="700.24" y2="614.5" stroke="#000" stroke-opacity="0.15" stroke-width="2"/><line x1="858.00" y1="417.5" x2="858.00" y2="614.5" stroke="#000" stroke-opacity="0.15" stroke-width="2"/><line x1="1015.76" y1="417.5" x2="1015.76" y2="614.5" stroke="#000" stroke-opacity="0.15" stroke-width="2"/><line x1="69.5" y1="595.50" x2="1094.5" y2="595.50" stroke="#1a1a1a" stroke-width="1.3"/><polyline points="45.54,486.01 69.20,481.60 148.08,466.90 226.96,463.40 305.84,454.50 384.72,444.70 463.60,451.20 542.48,479.00 621.36,470.30 700.24,467.10 779.12,471.80 858.00,472.90 936.88,476.20 1015.76,476.40 1094.64,484.40 1118.30,486.80" fill="none" stroke="#ff0000" stroke-width="5" stroke-linejoin="round"/><polyline points="45.54,601.03 69.20,586.00 148.08,535.90 226.96,489.20 305.84,492.00 384.72,496.20 463.60,494.00 542.48,521.80 621.36,540.60 700.24,538.00 779.12,527.20 858.00,529.40 936.88,539.10 1015.76,543.60 1094.64,544.00 1118.30,544.12" fill="none" stroke="#1e90ff" stroke-width="5" stroke-linejoin="round"/></g><line x1="69.5" y1="611.96" x2="74.5" y2="611.96" stroke="#222" stroke-width="1.2"/><line x1="69.5" y1="603.73" x2="74.5" y2="603.73" stroke="#222" stroke-width="1.2"/><line x1="69.5" y1="587.27" x2="74.5" y2="587.27" stroke="#222" stroke-width="1.2"/><line x1="69.5" y1="579.04" x2="74.5" y2="579.04" stroke="#222" stroke-width="1.2"/><line x1="69.5" y1="570.81" x2="74.5" y2="570.81" stroke="#222" stroke-width="1.2"/><line x1="69.5" y1="562.58" x2="74.5" y2="562.58" stroke="#222" stroke-width="1.2"/><line x1="69.5" y1="546.12" x2="74.5" y2="546.12" stroke="#222" stroke-width="1.2"/><line x1="69.5" y1="537.89" x2="74.5" y2="537.89" stroke="#222" stroke-width="1.2"/><line x1="69.5" y1="529.66" x2="74.5" y2="529.66" stroke="#222" stroke-width="1.2"/><line x1="69.5" y1="521.43" x2="74.5" y2="521.43" stroke="#222" stroke-width="1.2"/><line x1="69.5" y1="504.97" x2="74.5" y2="504.97" stroke="#222" stroke-width="1.2"/><line x1="69.5" y1="496.74" x2="74.5" y2="496.74" stroke="#222" stroke-width="1.2"/><line x1="69.5" y1="488.51" x2="74.5" y2="488.51" stroke="#222" stroke-width="1.2"/><line x1="69.5" y1="480.28" x2="74.5" y2="480.28" stroke="#222" stroke-width="1.2"/><line x1="69.5" y1="463.82" x2="74.5" y2="463.82" stroke="#222" stroke-width="1.2"/><line x1="69.5" y1="455.59" x2="74.5" y2="455.59" stroke="#222" stroke-width="1.2"/><line x1="69.5" y1="447.36" x2="74.5" y2="447.36" stroke="#222" stroke-width="1.2"/><line x1="69.5" y1="439.13" x2="74.5" y2="439.13" stroke="#222" stroke-width="1.2"/><line x1="69.5" y1="422.67" x2="74.5" y2="422.67" stroke="#222" stroke-width="1.2"/><rect x="69.5" y="417.5" width="1025.0" height="197.0" fill="none" stroke="#1a1a1a" stroke-width="1.3"/><text x="59.00" y="601.80" font-size="20.60" fill="#000" text-anchor="middle" textLength="11.47" lengthAdjust="spacingAndGlyphs">0</text><text x="59.00" y="560.65" font-size="20.60" fill="#000" text-anchor="middle" textLength="11.47" lengthAdjust="spacingAndGlyphs">5</text><text x="52.50" y="519.50" font-size="20.60" fill="#000" text-anchor="middle" textLength="25.21" lengthAdjust="spacingAndGlyphs">10</text><text x="52.50" y="478.35" font-size="20.60" fill="#000" text-anchor="middle" textLength="25.21" lengthAdjust="spacingAndGlyphs">15</text><text x="53.00" y="437.20" font-size="20.60" fill="#000" text-anchor="middle" textLength="24.01" lengthAdjust="spacingAndGlyphs">20</text><text x="854" y="484.3" font-size="19" fill="#0000ff" stroke="#0000ff" stroke-width="0.35" text-anchor="middle" textLength="207" lengthAdjust="spacingAndGlyphs">© vreme.us &amp; vreme.pro</text><text x="578.70" y="667.60" font-size="23.78" fill="#000" text-anchor="middle">Količina padavin (mm) / Možnost padavin (%)</text><text x="69.20" y="692.50" font-size="20.60" fill="#000" text-anchor="middle" textLength="28.05" lengthAdjust="spacingAndGlyphs">tor</text><text x="148.08" y="692.50" font-size="20.60" fill="#000" text-anchor="middle" textLength="29.75" lengthAdjust="spacingAndGlyphs">sre</text><text x="226.96" y="692.50" font-size="20.60" fill="#000" text-anchor="middle" textLength="29.52" lengthAdjust="spacingAndGlyphs">čet</text><text x="305.84" y="692.50" font-size="20.60" fill="#000" text-anchor="middle" textLength="32.88" lengthAdjust="spacingAndGlyphs">pet</text><text x="384.72" y="692.50" font-size="20.60" fill="#000" text-anchor="middle" textLength="35.29" lengthAdjust="spacingAndGlyphs">sob</text><text x="463.60" y="692.50" font-size="20.60" fill="#000" text-anchor="middle" textLength="36.52" lengthAdjust="spacingAndGlyphs">ned</text><text x="542.48" y="692.50" font-size="20.60" fill="#000" text-anchor="middle" textLength="36.52" lengthAdjust="spacingAndGlyphs">pon</text><text x="621.36" y="692.50" font-size="20.60" fill="#000" text-anchor="middle" textLength="28.05" lengthAdjust="spacingAndGlyphs">tor</text><text x="700.24" y="692.50" font-size="20.60" fill="#000" text-anchor="middle" textLength="29.75" lengthAdjust="spacingAndGlyphs">sre</text><text x="779.12" y="692.50" font-size="20.60" fill="#000" text-anchor="middle" textLength="29.52" lengthAdjust="spacingAndGlyphs">čet</text><text x="858.00" y="692.50" font-size="20.60" fill="#000" text-anchor="middle" textLength="32.88" lengthAdjust="spacingAndGlyphs">pet</text><text x="936.88" y="692.50" font-size="20.60" fill="#000" text-anchor="middle" textLength="35.29" lengthAdjust="spacingAndGlyphs">sob</text><text x="1015.76" y="692.50" font-size="20.60" fill="#000" text-anchor="middle" textLength="36.52" lengthAdjust="spacingAndGlyphs">ned</text><text x="1094.64" y="692.50" font-size="20.60" fill="#000" text-anchor="middle" textLength="36.52" lengthAdjust="spacingAndGlyphs">pon</text><rect x="69.5" y="700.5" width="1025.0" height="197.0" fill="#f9f9f9"/><line x1="69.5" y1="844.94" x2="1094.5" y2="844.94" stroke="#000" stroke-opacity="0.15" stroke-width="2"/><line x1="69.5" y1="792.88" x2="1094.5" y2="792.88" stroke="#000" stroke-opacity="0.15" stroke-width="2"/><line x1="69.5" y1="740.82" x2="1094.5" y2="740.82" stroke="#000" stroke-opacity="0.15" stroke-width="2"/><line x1="226.96" y1="700.5" x2="226.96" y2="897.5" stroke="#000" stroke-opacity="0.15" stroke-width="2"/><line x1="384.72" y1="700.5" x2="384.72" y2="897.5" stroke="#000" stroke-opacity="0.15" stroke-width="2"/><line x1="542.48" y1="700.5" x2="542.48" y2="897.5" stroke="#000" stroke-opacity="0.15" stroke-width="2"/><line x1="700.24" y1="700.5" x2="700.24" y2="897.5" stroke="#000" stroke-opacity="0.15" stroke-width="2"/><line x1="858.00" y1="700.5" x2="858.00" y2="897.5" stroke="#000" stroke-opacity="0.15" stroke-width="2"/><line x1="1015.76" y1="700.5" x2="1015.76" y2="897.5" stroke="#000" stroke-opacity="0.15" stroke-width="2"/><clipPath id="pc"><rect x="69.5" y="690.5" width="1025.0" height="209.0"/></clipPath><g clip-path="url(#pc)"><rect x="122.08" y="895.50" width="52" height="1.50" fill="#0047ff"/><rect x="200.96" y="857.64" width="52" height="39.36" fill="#0047ff"/><rect x="437.60" y="832.97" width="52" height="64.03" fill="#0047ff"/><rect x="516.48" y="788.45" width="52" height="108.55" fill="#0047ff"/><rect x="595.36" y="871.75" width="52" height="25.25" fill="#0047ff"/><line x1="59.20" y1="896.50" x2="79.20" y2="896.50" stroke="#222" stroke-width="2"/><line x1="148.08" y1="897.00" x2="148.08" y2="890.23" stroke="#808080" stroke-width="3"/><line x1="138.08" y1="890.23" x2="158.08" y2="890.23" stroke="#808080" stroke-width="3"/><line x1="226.96" y1="897.00" x2="226.96" y2="805.37" stroke="#808080" stroke-width="3"/><line x1="216.96" y1="805.37" x2="236.96" y2="805.37" stroke="#808080" stroke-width="3"/><line x1="295.84" y1="896.50" x2="315.84" y2="896.50" stroke="#222" stroke-width="2"/><line x1="374.72" y1="896.50" x2="394.72" y2="896.50" stroke="#222" stroke-width="2"/><line x1="463.60" y1="897.00" x2="463.60" y2="725.20" stroke="#808080" stroke-width="3"/><line x1="453.60" y1="725.20" x2="473.60" y2="725.20" stroke="#808080" stroke-width="3"/><line x1="542.48" y1="865.24" x2="542.48" y2="712.19" stroke="#808080" stroke-width="3"/><line x1="532.48" y1="712.19" x2="552.48" y2="712.19" stroke="#808080" stroke-width="3"/><line x1="532.48" y1="865.24" x2="552.48" y2="865.24" stroke="#808080" stroke-width="3"/><line x1="621.36" y1="897.00" x2="621.36" y2="831.14" stroke="#808080" stroke-width="3"/><line x1="611.36" y1="831.14" x2="631.36" y2="831.14" stroke="#808080" stroke-width="3"/><line x1="690.24" y1="896.50" x2="710.24" y2="896.50" stroke="#222" stroke-width="2"/><line x1="769.12" y1="896.50" x2="789.12" y2="896.50" stroke="#222" stroke-width="2"/><line x1="848.00" y1="896.50" x2="868.00" y2="896.50" stroke="#222" stroke-width="2"/><line x1="926.88" y1="896.50" x2="946.88" y2="896.50" stroke="#222" stroke-width="2"/><line x1="1005.76" y1="896.50" x2="1025.76" y2="896.50" stroke="#222" stroke-width="2"/><line x1="1084.64" y1="896.50" x2="1104.64" y2="896.50" stroke="#222" stroke-width="2"/></g><polyline points="69.5,700.5 1094.5,700.5 1094.5,897.5 69.5,897.5 69.5,700.5" fill="none" stroke="#1a1a1a" stroke-width="1.3"/><text x="53.00" y="748.10" font-size="20.60" fill="#000" text-anchor="middle" textLength="22.92" lengthAdjust="spacingAndGlyphs">30</text><text x="53.00" y="800.00" font-size="20.60" fill="#000" text-anchor="middle" textLength="24.01" lengthAdjust="spacingAndGlyphs">20</text><text x="52.50" y="852.00" font-size="20.60" fill="#000" text-anchor="middle" textLength="25.21" lengthAdjust="spacingAndGlyphs">10</text><text x="59.00" y="893.00" font-size="20.60" fill="#000" text-anchor="middle" textLength="11.47" lengthAdjust="spacingAndGlyphs">0</text><text x="69.20" y="927.00" font-size="25.00" fill="#58d8e2" text-anchor="middle" textLength="37.20" lengthAdjust="spacingAndGlyphs">5%</text><text x="148.08" y="927.00" font-size="25.00" fill="#3298d3" text-anchor="middle" textLength="52.13" lengthAdjust="spacingAndGlyphs">25%</text><text x="226.96" y="927.00" font-size="25.00" fill="#1762c0" text-anchor="middle" textLength="52.13" lengthAdjust="spacingAndGlyphs">80%</text><text x="305.84" y="927.00" font-size="25.00" fill="#3298d3" text-anchor="middle" textLength="52.13" lengthAdjust="spacingAndGlyphs">30%</text><text x="384.72" y="927.00" font-size="25.00" fill="#3298d3" text-anchor="middle" textLength="52.13" lengthAdjust="spacingAndGlyphs">30%</text><text x="463.60" y="927.00" font-size="25.00" fill="#1762c0" text-anchor="middle" textLength="52.13" lengthAdjust="spacingAndGlyphs">55%</text><text x="542.48" y="927.00" font-size="25.00" fill="#1762c0" text-anchor="middle" textLength="52.13" lengthAdjust="spacingAndGlyphs">70%</text><text x="621.36" y="927.00" font-size="25.00" fill="#3298d3" text-anchor="middle" textLength="52.13" lengthAdjust="spacingAndGlyphs">25%</text><text x="700.24" y="927.00" font-size="25.00" fill="#3298d3" text-anchor="middle" textLength="52.13" lengthAdjust="spacingAndGlyphs">25%</text><text x="778.62" y="927.00" font-size="25.00" fill="#3298d3" text-anchor="middle" textLength="52.17" lengthAdjust="spacingAndGlyphs">45%</text><text x="858.00" y="927.00" font-size="25.00" fill="#3298d3" text-anchor="middle" textLength="52.13" lengthAdjust="spacingAndGlyphs">35%</text><text x="936.88" y="927.00" font-size="25.00" fill="#3298d3" text-anchor="middle" textLength="52.13" lengthAdjust="spacingAndGlyphs">35%</text><text x="1015.26" y="927.00" font-size="25.00" fill="#3298d3" text-anchor="middle" textLength="52.17" lengthAdjust="spacingAndGlyphs">40%</text><text x="1094.64" y="927.00" font-size="25.00" fill="#3298d3" text-anchor="middle" textLength="52.13" lengthAdjust="spacingAndGlyphs">35%</text></svg>
</body></html>
